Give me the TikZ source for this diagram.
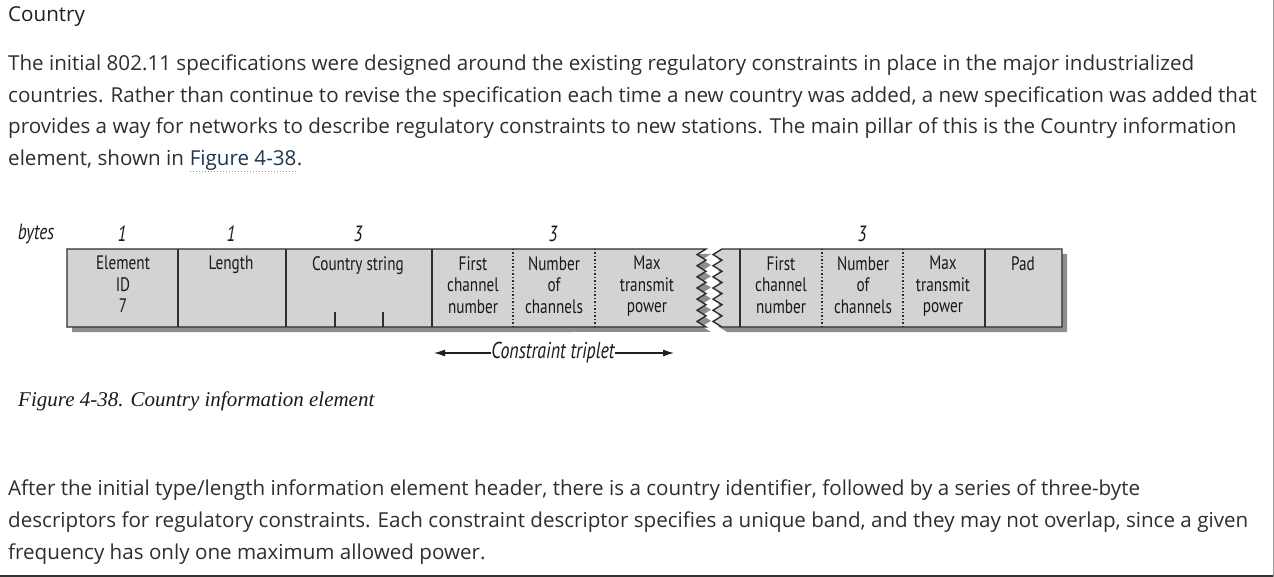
\documentclass[tikz,border=0pt]{standalone}
\usepackage{fontspec}
\setmainfont{Open Sans}
\newfontfamily\condfont[FakeStretch=0.78]{PT Sans}
\newfontfamily\capfont{Liberation Serif}
\usetikzlibrary{arrows.meta,calc}
\definecolor{txt}{HTML}{2E2E2E}
\definecolor{linkc}{HTML}{1F3550}
\definecolor{boxfill}{HTML}{D3D3D3}
\definecolor{shadowc}{HTML}{8E8E8E}
\definecolor{edge}{HTML}{2E2E2E}
\tikzset{
  body/.style={anchor=base west, inner sep=0pt, text=txt, font=\fontsize{20.6}{24}\selectfont},
  lab/.style={anchor=north, inner sep=0pt, align=center, text=black!90, font=\condfont\fontsize{19.5}{21.5}\selectfont},
  num/.style={inner sep=0pt, text=black!90, font=\condfont\itshape\fontsize{22}{24}\selectfont},
  boxline/.style={draw=edge, line width=1.4pt, fill=boxfill, line join=miter},
  dotdiv/.style={draw=edge, line width=1.2pt, dash pattern=on 1.3pt off 2.2pt},
  soliddiv/.style={draw=edge, line width=1.4pt},
  tip/.style={-{Latex[length=11pt,width=7pt]}, line width=1.1pt, draw=black!88}
}
\begin{document}
\begin{tikzpicture}[x=1pt,y=-1pt]
\useasboundingbox (0,0) rectangle (1274,577);
% page frame
\draw[line width=2pt, black!80] (0,576) -- (1274,576);
\draw[line width=1pt, black!40] (1273.5,0) -- (1273.5,577);

% heading
\node[body, text=black!88] (head) at (8,22) {Country};

% paragraph 1
\node[body] (p1a) at (8,71) {The initial 802.11 specifications were designed around the existing regulatory constraints in place in the major industrialized};
\node[body] (p1b) at (8,103) {countries. Rather than continue to revise the specification each time a new country was added, a new specification was added that};
\node[body] (p1c) at (8,134) {provides a way for networks to describe regulatory constraints to new stations. The main pillar of this is the Country information};
\node[body] (p1d) at (8,166) {element, shown in};
\node[body, text=linkc] (fig) at ($(p1d.base east)+(5.5,0)$) {Figure 4-38};
\node[body] (p1e) at (fig.base east) {.};
\draw[black!40, line width=0.8pt, dash pattern=on 1.5pt off 1.5pt] ($(fig.base west)+(0,5)$) -- ($(fig.base east)+(0,5)$);

% shadows
\begin{scope}[shift={(5,5)}]
\fill[shadowc] (67,249) -- (706,249) \foreach \i in {1,...,7} { -- ++(-9,5.5714) -- ++(9,5.5714) } -- (67,327) -- cycle;
\fill[shadowc] (722,249) -- (1062,249) -- (1062,327) -- (722,327) \foreach \i in {1,...,7} { -- ++(-9,-5.5714) -- ++(9,-5.5714) } -- cycle;
\end{scope}
% boxes
\draw[boxline] (67,249) -- (706,249) \foreach \i in {1,...,7} { -- ++(-9,5.5714) -- ++(9,5.5714) } -- (67,327) -- cycle;
\draw[boxline] (722,249) -- (1062,249) -- (1062,327) -- (722,327) \foreach \i in {1,...,7} { -- ++(-9,-5.5714) -- ++(9,-5.5714) } -- cycle;

% dividers
\draw[soliddiv] (178,249) -- (178,327);
\draw[soliddiv] (286,249) -- (286,327);
\draw[soliddiv] (432,249) -- (432,327);
\draw[dotdiv] (513,249) -- (513,327);
\draw[dotdiv] (595,249) -- (595,327);
\draw[soliddiv] (740,249) -- (740,327);
\draw[dotdiv] (822,249) -- (822,327);
\draw[dotdiv] (903,249) -- (903,327);
\draw[soliddiv] (985,249) -- (985,327);
% country string ticks
\draw[soliddiv, line width=1.2pt] (335,312) -- (335,327);
\draw[soliddiv, line width=1.2pt] (383,312) -- (383,327);

% byte counts
\node[num] (bytes) at (36,234) {bytes};
\node[num] (n1) at (122,234) {1};
\node[num] (n2) at (231,234) {1};
\node[num] (n3) at (358,234) {3};
\node[num] (n4) at (553,234) {3};
\node[num] (n5) at (862,234) {3};

% field labels
\node[lab] (eid) at (123,256) {Element\\ID\\7};
\node[lab] (len) at (231,256) {Length};
\node[lab] (cs) at (358,256) {Country string};
\node[lab] (fc1) at (473,256) {First\\channel\\number};
\node[lab] (nc1) at (554,256) {Number\\of\\channels};
\node[lab] (mt1) at (647,256) {Max\\transmit\\power};
\node[lab] (fc2) at (781,256) {First\\channel\\number};
\node[lab] (nc2) at (863,256) {Number\\of\\channels};
\node[lab] (mt2) at (943,256) {Max\\transmit\\power};
\node[lab] (pad) at (1023,256) {Pad};

% constraint triplet
\node[num, font=\condfont\itshape\fontsize{23}{25}\selectfont] (ct) at (553,353) {Constraint triplet};
\coordinate (ctl) at (434,353);
\coordinate (ctr) at (674,353);
\draw[tip] (ct.west) -- (ctl);
\draw[tip] (ct.east) -- (ctr);

% caption
\node[anchor=base west, inner sep=0pt, text=black!90, font=\capfont\itshape\fontsize{21}{24}\selectfont] (cap) at (18,406) {Figure 4-38. Country information element};

% paragraph 2
\node[body] (p2a) at (8,495) {After the initial type/length information element header, there is a country identifier, followed by a series of three-byte};
\node[body] (p2b) at (8,527) {descriptors for regulatory constraints. Each constraint descriptor specifies a unique band, and they may not overlap, since a given};
\node[body] (p2c) at (8,559) {frequency has only one maximum allowed power.};
\end{tikzpicture}
\end{document}
